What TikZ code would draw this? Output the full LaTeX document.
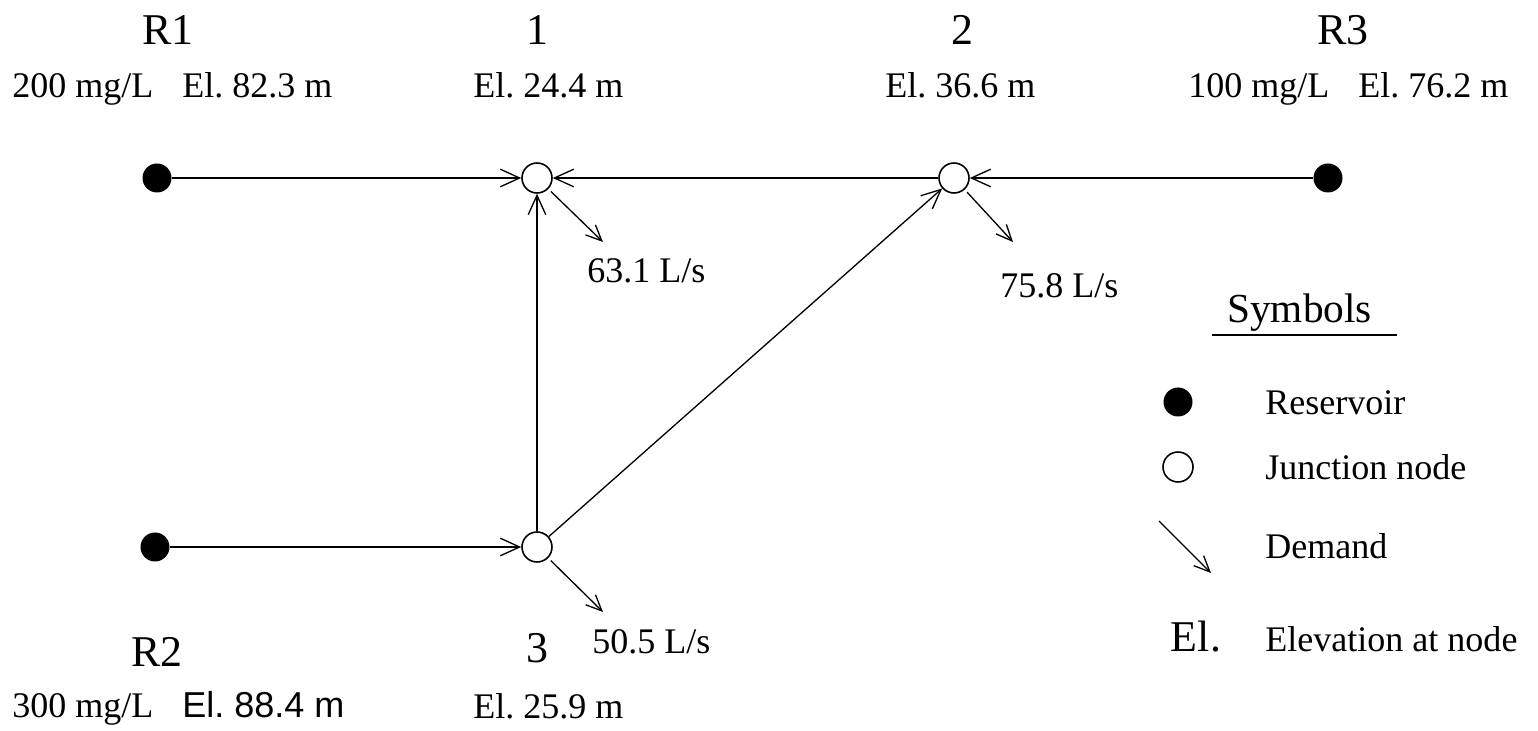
\documentclass[tikz,border=0pt]{standalone}
\usepackage{fontspec}
\setmainfont{Liberation Serif}
\newfontfamily\elsans{Liberation Sans}
\usepackage{tikz}
\usetikzlibrary{arrows.meta}
\frenchspacing

\tikzset{
  reservoir/.style={circle,fill=black,inner sep=0pt,minimum size=0.58cm},
  junction/.style={circle,draw,line width=0.9pt,fill=white,inner sep=0pt,minimum size=0.6cm},
  pipe/.style={->,line width=0.75pt},
  demand/.style={-{Straight Barb[length=9pt,width=8pt]},line width=0.75pt,shorten <=2pt},
  big/.style={font=\fontsize{25}{28}\selectfont,anchor=base},
  txt/.style={font=\fontsize{20.5}{24}\selectfont,anchor=base west,inner sep=0pt}
}

\begin{document}
\begin{tikzpicture}[>={Straight Barb[length=11pt,width=10pt]}]
\useasboundingbox (0,0) rectangle (30.76,14.6);

%---------------- Network ----------------
\node[reservoir] (R1) at (3.14,11.04) {};
\node[junction]  (J1) at (10.74,11.04) {};
\node[junction]  (J2) at (19.08,11.04) {};
\node[reservoir] (R3) at (26.56,11.04) {};
\node[reservoir] (R2) at (3.10,3.66) {};
\node[junction]  (J3) at (10.74,3.66) {};

% Pipes
\draw[pipe] (R1) -- (J1);
\draw[pipe] (J2) -- (J1);
\draw[pipe] (R3) -- (J2);
\draw[pipe] (R2) -- (J3);
\draw[pipe] (J3) -- (J1);
\draw[pipe] (J3) -- (J2);

% Demands
\coordinate (d1) at (12.06,9.76);
\coordinate (d2) at (20.26,9.76);
\coordinate (d3) at (12.06,2.36);
\draw[demand] (J1) -- (d1);
\draw[demand] (J2) -- (d2);
\draw[demand] (J3) -- (d3);

%---------------- Labels ----------------
\node[big] (lR1) at (3.36,13.70) {R1};
\node[txt] (tR1) at (0.24,12.64) {200 mg/L\hspace{0.8em}El. 82.3 m};
\node[big] (l1) at (10.74,13.70) {1};
\node[txt] (t1) at (9.46,12.64) {El. 24.4 m};
\node[big] (l2) at (19.24,13.70) {2};
\node[txt] (t2) at (17.70,12.64) {El. 36.6 m};
\node[big] (lR3) at (26.86,13.70) {R3};
\node[txt] (tR3) at (23.76,12.64) {100 mg/L\hspace{0.8em}El. 76.2 m};

\node[txt] (q1) at (11.74,8.94) {63.1 L/s};
\node[txt] (q2) at (20.00,8.64) {75.8 L/s};
\node[txt] (q3) at (11.84,1.54) {50.5 L/s};

\node[big] (lR2) at (3.14,1.26) {R2};
\node[txt] (tR2) at (0.24,0.26) {300 mg/L\hspace{0.8em}{\elsans El. 88.4 m}};
\node[big] (l3) at (10.74,1.34) {3};
\node[txt] (t3) at (9.46,0.24) {El. 25.9 m};

%---------------- Legend ----------------
\node[txt,font=\fontsize{23.5}{26}\selectfont] (sym) at (24.54,8.14) {Symbols};
\draw[line width=0.75pt] (24.24,7.90) -- (27.94,7.90);

\node[reservoir] (kR) at (23.56,6.56) {};
\node[txt] (kRt) at (25.30,6.30) {Reservoir};
\node[junction] (kJ) at (23.56,5.26) {};
\node[txt] (kJt) at (25.30,5.00) {Junction node};
\coordinate (kDa) at (23.18,4.18);
\coordinate (kDb) at (24.22,3.14);
\draw[demand,shorten <=0pt] (kDa) -- (kDb);
\node[txt] (kDt) at (25.30,3.42) {Demand};
\node[big] (kE) at (23.92,1.56) {El.};
\node[txt] (kEt) at (25.30,1.56) {Elevation at node};

\end{tikzpicture}
\end{document}
